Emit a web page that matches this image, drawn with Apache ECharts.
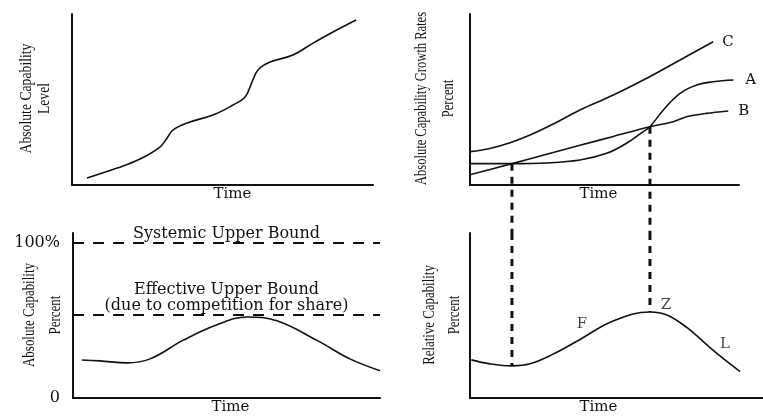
<!DOCTYPE html>
<html>
<head>
<meta charset="utf-8">
<script src="https://cdn.jsdelivr.net/npm/echarts@6/dist/echarts.min.js"></script>
<style>html,body{margin:0;padding:0;background:#fff;}#c{width:763px;height:416px;}</style>
</head>
<body>
<div id="c"></div>
<script>
// Panel 1: absolute capability level
const timeLevel = [5.0, 15.0, 22.6, 29.2, 31.6, 33.6, 38.2, 46.8, 53.5, 57.5, 59.8, 61.8, 65.8, 73.4, 80.1, 86.7, 94.4];
const levelValues = [4.1, 9.9, 15.2, 22.2, 27.5, 32.2, 36.3, 40.9, 46.8, 51.5, 60.2, 67.3, 71.9, 76.0, 83.0, 89.5, 96.5];

// Panel 2: growth rates A, B, C
const timeC = [0, 7.4, 14.9, 22.3, 31.0, 40.9, 53.3, 65.7, 78.1, 90.4];
const rateC = [19.5, 21.4, 24.7, 29.2, 35.7, 43.9, 52.6, 62.4, 73.1, 83.8];
const timeA = [0, 15.6, 28.5, 40.9, 50.8, 58.2, 64.4, 66.9, 71.9, 78.1, 84.3, 90.4, 97.9];
const rateA = [12.5, 12.5, 12.9, 14.6, 18.5, 24.4, 31.2, 34.1, 43.9, 53.6, 58.5, 60.4, 61.4];
const timeB = [0, 15.6, 28.5, 40.9, 53.3, 66.9, 75.6, 80.5, 88.0, 96.0];
const rateB = [6.0, 12.5, 18.0, 23.2, 28.4, 34.1, 37.0, 39.9, 41.9, 43.3];
const seriesNames = ['A', 'B', 'C'];

// Crossing times (dashed guides)
const crossTimes = [15.6, 66.9];
const crossRates = [12.5, 34.1];

// Panel 3: absolute capability percent
const timeAbs = [2.9, 8.8, 17.6, 25.1, 35.8, 46.9, 56.7, 66.4, 79.5, 90.2, 100];
const absPct = [24.5, 23.9, 22.6, 25.2, 37.1, 47.2, 52.2, 49.7, 37.1, 25.2, 17.6];
const systemicBound = 100;
const effectiveBound = 53.5;
const absTickValues = [0, 100];
const absTickLabels = ['0', '100%'];

// Panel 4: relative capability percent
const timeRel = [0.5, 7.4, 15.6, 22.3, 30.9, 40.9, 53.2, 66.9, 73.2, 80.7, 90.3, 100.4];
const relPct = [23.1, 20.7, 19.5, 20.7, 26.6, 35.5, 46.7, 52.1, 50.3, 42.6, 29.0, 16.0];
const relMarks = [{ i: 5, text: 'F' }, { i: 7, text: 'Z' }, { i: 10, text: 'L' }];

const INK = '#111';
const SERIF = '"DejaVu Serif", serif';
const TIMES = '"Liberation Serif", serif';
const zip = (xs, ys) => xs.map((x, i) => [x, ys[i]]);

function xAx(grid, max, pad) {
  return {
    gridIndex: grid, type: 'value', min: 0, max: max,
    name: 'Time', nameLocation: 'middle', nameGap: 2,
    nameTextStyle: { fontFamily: SERIF, fontSize: 15, color: INK, padding: pad },
    axisLine: { show: true, onZero: false, lineStyle: { color: INK, width: 2 } },
    axisTick: { show: false }, axisLabel: { show: false }, splitLine: { show: false }
  };
}
function yAx(grid, max, extra) {
  return Object.assign({
    gridIndex: grid, type: 'value', min: 0, max: max,
    axisLine: { show: true, onZero: false, lineStyle: { color: INK, width: 2 } },
    axisTick: { show: false }, axisLabel: { show: false }, splitLine: { show: false }
  }, extra || {});
}
const curve = { type: 'line', smooth: 0.4, showSymbol: false, lineStyle: { color: INK, width: 1.6 }, silent: true };
const guideStyle = { color: INK, width: 3, type: [7, 6] };

function yTitle(x, y, text, lh, sx) {
  return {
    type: 'text', x: x, y: y, rotation: Math.PI / 2, scaleX: sx, silent: true,
    style: { text: text, fill: INK, font: '16.5px ' + TIMES, lineHeight: lh,
      align: 'center', verticalAlign: 'middle', textAlign: 'center', textVerticalAlign: 'middle' }
  };
}

const chart = echarts.init(document.getElementById('c'), null, { renderer: 'canvas' });
chart.setOption({
  animation: false,
  backgroundColor: '#fff',
  grid: [
    { left: 72, top: 14, width: 301, height: 171 },
    { left: 470, top: 14, width: 269, height: 171 },
    { left: 73, top: 233, width: 307, height: 169 },
    { left: 470, top: 233, width: 293, height: 169 }
  ],
  xAxis: [
    xAx(0, 100, [0, 0, 0, 20]),
    xAx(1, 100, [0, 12, 0, 0]),
    xAx(2, 100, [0, 0, 0, 8]),
    xAx(3, 293 / 2.69, [0, 36, 0, 0])
  ],
  yAxis: [
    yAx(0, 100),
    yAx(1, 100),
    yAx(2, 169 / 1.59, {
      axisLabel: {
        show: true, customValues: absTickValues, margin: 13,
        fontFamily: SERIF, fontSize: 16, color: INK,
        formatter: v => absTickLabels[absTickValues.indexOf(v)]
      }
    }),
    yAx(3, 100)
  ],
  graphic: [
    yTitle(36, 98.5, 'Absolute Capability\nLevel', 18, 0.83),
    yTitle(435, 98.5, 'Absolute Capability Growth Rates\nPercent', 27, 0.76),
    yTitle(42.5, 315, 'Absolute Capability\nPercent', 26, 0.785),
    yTitle(442, 315, 'Relative Capability\nPercent', 25, 0.78)
  ],
  series: [
    Object.assign({}, curve, { name: 'Level', xAxisIndex: 0, yAxisIndex: 0, data: zip(timeLevel, levelValues) }),
    Object.assign({}, curve, { name: seriesNames[2], xAxisIndex: 1, yAxisIndex: 1, data: zip(timeC, rateC),
      endLabel: { show: true, formatter: seriesNames[2], distance: 9, fontFamily: SERIF, fontSize: 15, color: INK } }),
    Object.assign({}, curve, { name: seriesNames[0], xAxisIndex: 1, yAxisIndex: 1, data: zip(timeA, rateA),
      endLabel: { show: true, formatter: seriesNames[0], distance: 12, fontFamily: SERIF, fontSize: 15, color: INK } }),
    Object.assign({}, curve, { name: seriesNames[1], xAxisIndex: 1, yAxisIndex: 1, smooth: 0.3, data: zip(timeB, rateB),
      endLabel: { show: true, formatter: seriesNames[1], distance: 10, fontFamily: SERIF, fontSize: 15, color: INK } }),
    // dashed guides, upper part (continues below the panel)
    ...crossTimes.map((t, k) => ({
      type: 'line', xAxisIndex: 1, yAxisIndex: 1, clip: false, silent: true, showSymbol: false,
      data: [[t, crossRates[k]], [t, -28]], lineStyle: guideStyle
    })),
    // dashed guides, lower part
    ...crossTimes.map((t) => ({
      type: 'line', xAxisIndex: 3, yAxisIndex: 3, clip: false, silent: true, showSymbol: false,
      data: [[t, 100], [t, relPct[timeRel.indexOf(t)]]], lineStyle: guideStyle
    })),
    Object.assign({}, curve, { name: 'Absolute', xAxisIndex: 2, yAxisIndex: 2, data: zip(timeAbs, absPct),
      markLine: {
        silent: true, symbol: 'none',
        lineStyle: { color: INK, width: 2, type: [11, 9] },
        label: { show: true, position: 'insideMiddleTop', distance: 1, fontFamily: SERIF, fontSize: 16, color: INK, lineHeight: 16 },
        data: [
          { yAxis: systemicBound, label: { formatter: 'Systemic Upper Bound' } },
          { yAxis: effectiveBound, label: { formatter: 'Effective Upper Bound\n(due to competition for share)' } }
        ]
      }
    }),
    Object.assign({}, curve, { name: 'Relative', xAxisIndex: 3, yAxisIndex: 3, data: zip(timeRel, relPct) }),
    {
      type: 'scatter', xAxisIndex: 3, yAxisIndex: 3, silent: true, symbolSize: 1,
      itemStyle: { color: 'transparent' },
      data: relMarks.map(m => ({
        value: [timeRel[m.i], relPct[m.i]],
        label: {
          show: true, formatter: m.text, position: 'inside',
          offset: m.text === 'F' ? [2, -15] : (m.text === 'Z' ? [16, -7] : [12, -6]),
          fontFamily: SERIF, fontSize: 15, color: INK
        }
      }))
    }
  ]
});
</script>
</body>
</html>
